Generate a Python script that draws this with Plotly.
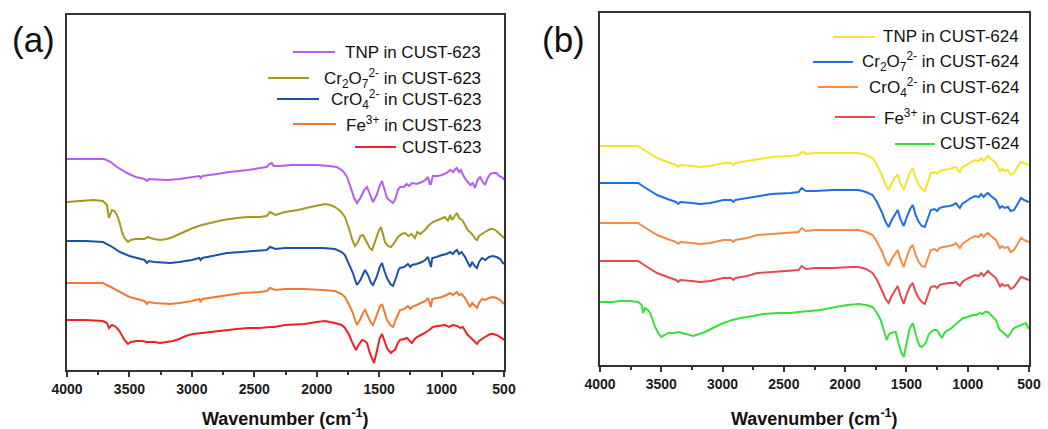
import plotly.graph_objects as go

# ---------------- DATA ----------------
# Panel (a)  (y = arbitrary offset transmittance, stacked)
wn_a_tnp = [4000,3850,3700,3650,3600,3520,3450,3380,3360,3345,3250,3200,3100,3000,2940,2930,2915,2800,2700,2550,2450,2400,2380,2360,2345,2300,2200,2000,1900,1840,1790,1757,1735,1717,1700,1677,1650,1620,1597,1575,1549,1520,1500,1477,1455,1437,1410,1389,1370,1350,1333,1300,1280,1260,1237,1200,1157,1130,1109,1095,1085,1070,1030,997,960,930,905,890,877,860,845,836,810,788,770,750,732,712,692,670,652,630,610,588,560,540,520,508,500]
y_a_tnp = [211,211,211,208,203,197,193,191,189,191,190,190,191,193,194,192,194,196,198,200,202,203,206,207,204,204,205,205,204,203,199,193,185,177,172,167,172,180,183,176,168,175,183,189,180,172,169,167,171,180,183,183,186,184,187,186,188,190,193,186,186,194,194,195,197,200,198,201,202,198,200,197,191,188,185,187,182,190,193,188,185,192,196,197,197,194,193,192,190]

wn_a_cr2o7 = [4000,3900,3790,3712,3680,3664,3650,3640,3620,3600,3580,3560,3540,3511,3490,3455,3420,3380,3350,3335,3300,3255,3200,3151,3100,3050,2991,2920,2855,2750,2639,2550,2454,2400,2374,2355,2330,2254,2150,2050,1934,1890,1854,1810,1774,1740,1715,1694,1670,1650,1629,1600,1575,1557,1530,1500,1485,1470,1453,1430,1405,1380,1349,1320,1293,1265,1240,1213,1195,1170,1133,1100,1069,1030,990,973,950,930,917,900,877,860,836,812,790,772,750,730,716,700,668,640,610,588,560,530,508,500]
y_a_cr2o7 = [168,169,170,169,165,152,158,160,159,155,148,138,132,128,130,131,131,131,133,132,131,130,131,133,136,139,142,145,147,150,152,153,153,154,158,157,155,158,160,163,166,165,163,159,153,141,130,124,128,134,135,128,122,120,130,140,143,136,128,124,123,127,133,136,137,134,136,132,138,136,140,145,148,150,152,153,149,155,150,153,157,152,150,145,140,138,135,131,130,134,137,139,141,141,139,136,133,132]

wn_a_cro4 = [4000,3850,3712,3650,3576,3500,3440,3380,3360,3345,3300,3175,3100,3000,2940,2930,2915,2800,2719,2600,2454,2400,2374,2355,2330,2254,2100,1950,1854,1800,1774,1740,1710,1690,1677,1650,1630,1613,1590,1565,1549,1520,1495,1477,1455,1437,1410,1389,1365,1345,1333,1300,1270,1250,1237,1200,1157,1130,1109,1095,1085,1075,1040,997,960,930,910,890,877,860,840,812,790,772,755,735,716,700,676,650,620,588,560,530,508,500]
y_a_cro4 = [129,129,128,124,118,114,112,110,107,109,108,107,108,110,112,110,112,115,117,118,119,120,123,122,121,122,122,122,121,118,115,106,97,89,85,90,96,100,95,87,85,93,103,107,98,92,86,84,92,100,102,103,106,103,105,106,108,110,113,106,103,112,113,115,116,118,116,119,120,116,118,113,108,103,108,104,102,108,112,110,113,114,113,111,107,106]

wn_a_fe = [4000,3850,3712,3650,3576,3500,3440,3380,3360,3345,3300,3175,3100,3000,2940,2930,2915,2800,2719,2600,2454,2400,2374,2355,2330,2254,2100,1950,1854,1800,1774,1740,1710,1690,1677,1650,1630,1613,1590,1565,1549,1520,1495,1477,1455,1437,1410,1389,1365,1345,1333,1300,1270,1250,1237,1200,1157,1130,1109,1095,1085,1075,1040,997,960,930,910,890,877,860,840,812,790,772,755,735,716,700,676,650,620,588,560,530,508,500]
y_a_fe = [87,87,87,83,78,73,71,69,66,68,67,66,67,69,71,68,71,73,75,77,78,79,82,81,80,81,81,80,79,76,73,65,57,49,45,51,57,60,54,47,45,54,63,66,57,50,45,43,51,58,60,61,64,61,63,65,67,69,72,65,63,71,72,73,75,77,75,77,78,75,76,72,67,63,67,64,62,67,71,70,72,73,72,70,67,66]

wn_a_cust = [4000,3850,3712,3680,3664,3650,3640,3620,3600,3580,3560,3540,3511,3490,3440,3400,3360,3335,3300,3255,3200,3151,3100,3050,2991,2920,2855,2750,2639,2550,2454,2374,2340,2254,2100,2000,1934,1854,1800,1774,1740,1717,1700,1685,1665,1637,1615,1597,1575,1555,1541,1520,1495,1477,1460,1437,1420,1405,1390,1373,1350,1333,1300,1277,1255,1237,1215,1197,1165,1133,1100,1069,1030,990,973,940,910,877,850,830,812,790,772,750,730,716,700,668,640,610,588,560,530,508,500]
y_a_cust = [50,50,49,47,42,44,45,44,42,39,35,30,26,28,29,29,28,28,28,27,28,29,31,34,36,37,38,40,41,42,42,43,43,45,46,48,49,47,45,42,35,28,23,20,25,30,29,27,17,10,7,18,32,36,30,22,19,17,19,20,27,30,31,32,29,27,31,33,35,37,40,43,44,45,45,43,45,44,42,43,39,35,33,30,27,26,29,32,34,36,36,35,33,31,30]

# Panel (b)
wn_b_common = [4000,3850,3689,3640,3600,3534,3450,3380,3362,3345,3250,3182,3100,2994,2930,2912,2895,2800,2716,2600,2446,2380,2355,2340,2320,2242,2100,1950,1890,1830,1776,1740,1710,1694,1670,1645,1620,1590,1571,1550,1522,1500,1470,1448,1425,1399,1375,1350,1330,1301,1270,1250,1230,1203,1150,1120,1097,1080,1064,1045,1010,974,940,910,890,870,850,835,810,790,770,750,737,720,700,672,650,622,600,565,540,520,500]
y_b_tnp = [219,219,219,215,212,207,203,200,198,200,199,198,199,202,202,200,202,204,206,208,209,210,213,213,211,212,212,212,212,210,207,200,193,188,180,175,182,188,190,182,175,183,193,197,187,180,176,174,182,192,193,191,194,195,196,197,198,195,193,198,200,203,205,204,207,204,207,209,206,204,202,197,193,196,194,195,190,192,197,203,202,201,200]
y_b_cr2o7 = [182,182,182,178,175,170,166,163,161,163,162,161,162,165,165,163,165,167,169,171,172,173,177,176,174,174,175,175,175,173,170,163,156,151,143,138,145,151,155,146,139,147,156,160,150,143,139,138,145,155,156,154,157,158,159,160,162,159,157,161,164,167,169,168,171,168,171,172,169,167,165,160,157,159,157,158,154,155,160,167,165,164,163]
y_b_cro4 = [142,142,142,138,135,130,126,123,121,123,122,121,122,125,125,123,125,127,130,131,132,133,137,136,134,135,135,135,135,133,130,123,116,112,104,99,106,112,115,106,98,107,117,120,110,103,99,98,106,115,116,114,117,118,119,120,122,119,117,121,124,127,129,128,131,128,131,132,129,127,125,120,117,119,117,118,113,115,120,127,125,124,123]
y_b_fe = [104,104,104,100,97,92,88,85,83,85,84,83,84,87,87,85,87,89,92,93,94,95,99,98,96,97,97,98,98,96,92,85,78,73,66,62,69,75,79,70,61,70,79,82,73,67,63,61,69,78,79,77,80,81,82,82,83,81,79,83,86,88,90,89,92,89,92,94,91,89,87,82,78,81,79,80,76,78,82,88,87,86,85]

wn_b_cust = [4000,3900,3836,3750,3689,3660,3648,3640,3632,3610,3591,3570,3550,3525,3501,3470,3444,3400,3360,3329,3290,3239,3190,3141,3080,2994,2920,2855,2750,2667,2550,2446,2380,2300,2201,2078,1980,1890,1830,1776,1740,1710,1685,1661,1645,1628,1600,1588,1565,1540,1522,1500,1475,1448,1430,1407,1390,1375,1342,1320,1301,1275,1252,1230,1211,1190,1162,1140,1121,1080,1039,1000,958,930,900,880,860,835,810,790,770,750,737,715,700,672,650,630,606,570,540,524,510,500]
y_b_cust = [63,63,64,64,63,60,52,55,57,55,52,45,38,32,28,30,32,32,33,32,31,29,31,33,37,42,45,47,49,51,52,52,53,54,55,58,60,61,60,58,52,45,35,25,30,32,33,33,22,12,8,22,36,42,33,23,19,18,22,30,33,35,35,30,27,32,35,36,38,43,47,48,50,50,52,51,53,53,50,47,45,38,35,33,31,28,32,36,38,40,41,42,38,36]

major_ticks = [4000, 3500, 3000, 2500, 2000, 1500, 1000, 500]
minor_ticks = [3750, 3250, 2750, 2250, 1750, 1250, 750]

names_a = ["TNP in CUST-623",
           "Cr<sub>2</sub>O<sub>7</sub><sup>2-</sup> in CUST-623",
           "CrO<sub>4</sub><sup>2-</sup> in CUST-623",
           "Fe<sup>3+</sup> in CUST-623",
           "CUST-623"]
names_b = ["TNP in CUST-624",
           "Cr<sub>2</sub>O<sub>7</sub><sup>2-</sup> in CUST-624",
           "CrO<sub>4</sub><sup>2-</sup> in CUST-624",
           "Fe<sup>3+</sup> in CUST-624",
           "CUST-624"]
x_title = "Wavenumber (cm<sup>-1</sup>)"

# ---------------- STYLE / LAYOUT ----------------
W, H = 1048, 429
FONT = "Liberation Sans, Arial, Helvetica, sans-serif"
AX = "#333333"

colors_a = ["#B25EF0", "#A09A22", "#1F4FA6", "#F07A34", "#EC2228"]
colors_b = ["#F4E430", "#1F6FE2", "#F28C46", "#E24A50", "#38E03C"]

series_a = [(wn_a_tnp, y_a_tnp), (wn_a_cr2o7, y_a_cr2o7), (wn_a_cro4, y_a_cro4),
            (wn_a_fe, y_a_fe), (wn_a_cust, y_a_cust)]
series_b = [(wn_b_common, y_b_tnp), (wn_b_common, y_b_cr2o7), (wn_b_common, y_b_cro4),
            (wn_b_common, y_b_fe), (wn_b_cust, y_b_cust)]

def px(x):
    return x / W

def py(y):
    return 1 - y / H

fig = go.Figure()
for (wn, yy), c, n in zip(series_a, colors_a, names_a):
    fig.add_trace(go.Scatter(x=wn, y=yy, mode="lines", line=dict(color=c, width=2),
                             name=n, showlegend=False, hoverinfo="skip", xaxis="x", yaxis="y"))
for (wn, yy), c, n in zip(series_b, colors_b, names_b):
    fig.add_trace(go.Scatter(x=wn, y=yy, mode="lines", line=dict(color=c, width=2),
                             name=n, showlegend=False, hoverinfo="skip", xaxis="x2", yaxis="y2"))

# panel frames in pixels
pa = dict(l=67, r=504, t=15, b=370)
pb = dict(l=600, r=1029, t=13, b=365)

def xaxis_style(domain, anchor):
    return dict(domain=domain, anchor=anchor, range=[4000, 500], autorange=False,
                automargin=False,
                tickmode="array", tickvals=major_ticks, ticktext=[str(v) for v in major_ticks],
                ticks="outside", ticklen=5, tickwidth=1.5, tickcolor=AX,
                showline=True, linecolor=AX, linewidth=1.5, mirror=True,
                showgrid=False, zeroline=False,
                tickfont=dict(family=FONT, size=14, color="#1a1a1a", weight="bold"),
                minor=dict(tickmode="array", tickvals=minor_ticks, ticks="outside",
                           ticklen=3, tickwidth=1.5, tickcolor=AX, showgrid=False))

def yaxis_style(domain, anchor, top):
    return dict(domain=domain, anchor=anchor, range=[0, top], autorange=False,
                automargin=False,
                showticklabels=False, ticks="", showline=True, linecolor=AX, linewidth=1.5,
                mirror=True, showgrid=False, zeroline=False)

fig.update_layout(
    width=W, height=H, margin=dict(l=0, r=0, t=0, b=0, pad=0, autoexpand=False),
    paper_bgcolor="white", plot_bgcolor="white", showlegend=False,
    xaxis=xaxis_style([px(pa["l"]), px(pa["r"])], "y"),
    yaxis=yaxis_style([py(pa["b"]), py(pa["t"])], "x", pa["b"] - pa["t"]),
    xaxis2=xaxis_style([px(pb["l"]), px(pb["r"])], "y2"),
    yaxis2=yaxis_style([py(pb["b"]), py(pb["t"])], "x2", pb["b"] - pb["t"]),
)

annotations = []
shapes = []

# legend-like labels (right aligned text with coloured line before it)
leg_a_right = 483
leg_a_rows = [52, 78, 99, 124, 147]
leg_a_lines = [(293, 335), (268, 309), (277, 319), (293, 336), (355, 396)]
leg_b_right = 1021
leg_b_rows = [37, 62, 87, 117, 144]
leg_b_lines = [(833, 875), (813, 853), (818, 858), (835, 875), (895, 935)]

for names, colors, right, rows, lines in [(names_a, colors_a, leg_a_right, leg_a_rows, leg_a_lines),
                                           (names_b, colors_b, leg_b_right, leg_b_rows, leg_b_lines)]:
    for n, c, yrow, (x0, x1) in zip(names, colors, rows, lines):
        annotations.append(dict(text=n, x=px(right), y=py(yrow), xref="paper", yref="paper",
                                xanchor="right", yanchor="middle", showarrow=False,
                                font=dict(family=FONT, size=17, color="#111111")))
        shapes.append(dict(type="line", xref="paper", yref="paper",
                           x0=px(x0), x1=px(x1), y0=py(yrow), y1=py(yrow),
                           line=dict(color=c, width=2)))

# panel labels
annotations.append(dict(text="(a)", x=px(33), y=py(39), xref="paper", yref="paper",
                        xanchor="center", yanchor="middle", showarrow=False,
                        font=dict(family=FONT, size=35, color="#111111")))
annotations.append(dict(text="(b)", x=px(563), y=py(40), xref="paper", yref="paper",
                        xanchor="center", yanchor="middle", showarrow=False,
                        font=dict(family=FONT, size=35, color="#111111")))

# axis titles
for cx in [(pa["l"] + pa["r"]) / 2, (pb["l"] + pb["r"]) / 2]:
    annotations.append(dict(text=x_title, x=px(cx), y=py(417), xref="paper", yref="paper",
                            xanchor="center", yanchor="middle", showarrow=False,
                            font=dict(family=FONT, size=18, color="#111111", weight="bold")))

fig.update_layout(annotations=annotations, shapes=shapes)

fig.write_html("out.html")
